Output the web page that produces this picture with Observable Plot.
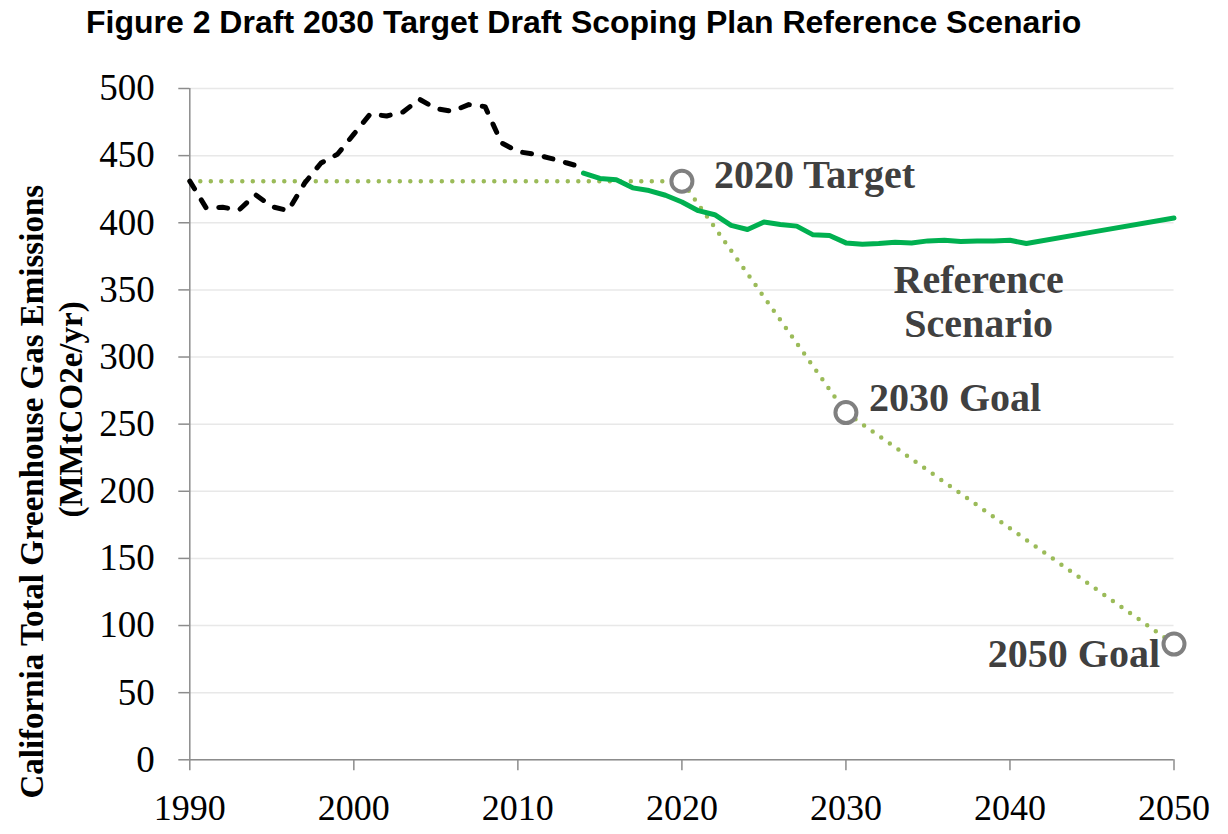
<!DOCTYPE html>
<html><head><meta charset="utf-8">
<script src="https://cdn.jsdelivr.net/npm/d3@7"></script>
<script src="https://cdn.jsdelivr.net/npm/@observablehq/plot@0.6"></script>
<style>
body{margin:0;background:#fff;width:1228px;height:834px;overflow:hidden}
#title{height:55px;position:relative;font-family:"Liberation Sans",Arial,sans-serif;font-weight:bold;font-size:32px;color:#000}
#title span{position:absolute;left:86px;top:6px;line-height:32px;white-space:nowrap}
#chart svg{display:block}
</style></head><body>
<div id="title"><span>Figure 2 Draft 2030 Target Draft Scoping Plan Reference Scenario</span></div>
<div id="chart"></div>
<script>
// Historical inventory (black dashed)
const histYears = [1990,1991,1992,1993,1994,1995,1996,1997,1998,1999,2000,2001,2002,2003,2004,2005,2006,2007,2008,2009,2010,2011,2012,2013,2014];
const histValues = [431,411,411.5,409.5,421,412,409,429.5,444.5,451,466,481,479.5,482.5,492,485,483,488,486.5,459.5,453,451,448,444.5,441];

// Reference scenario (green)
const refYears = [2014,2015,2016,2017,2018,2019,2020,2021,2022,2023,2024,2025,2026,2027,2028,2029,2030,2031,2032,2033,2034,2035,2036,2037,2038,2039,2040,2041,2045,2050];
const refValues = [437,433,432,426,424,420.5,415.5,409,406,398,395,400.5,398.75,397.5,391,390.5,385,384,384.5,385.5,385,386.5,387,386,386.5,386.5,387,384.5,393,403.5];

// Targets / goals (dotted path and circles)
const goalYears = [1990,2020,2030,2050];
const goalValues = [431,431,258.6,86.2];
const goalLabels = ["", "2020 Target", "2030 Goal", "2050 Goal"];

const refLabel = "Reference\nScenario";
const yLabel1 = "California Total Greenhouse Gas Emissions";
const yLabel2 = "(MMtCO2e/yr)";

const yTicks = [0,50,100,150,200,250,300,350,400,450,500];
const xTicks = [1990,2000,2010,2020,2030,2040,2050];

const hist = histYears.map((year,i)=>({year, value:histValues[i]}));
const ref = refYears.map((year,i)=>({year, value:refValues[i]}));
const goals = goalYears.map((year,i)=>({year, value:goalValues[i], label:goalLabels[i]}));
const goalPts = goals.slice(1);

const axisGray = "#8c8c8c";
const labelColor = "#404040";

const plot = Plot.plot({
  width: 1228, height: 779,
  marginTop: 33, marginBottom: 74.7, marginLeft: 189.3, marginRight: 54.5,
  x: {domain: [1990, 2050], label: null},
  y: {domain: [0, 500], label: null},
  style: {fontFamily: "Liberation Serif", background: "white", color: "black", overflow: "visible"},
  marks: [
    Plot.gridY(yTicks, {stroke: "#e8e8e8", strokeOpacity: 1, strokeWidth: 1.5}),
    Plot.axisY(yTicks, {tickSize: 11, tickPadding: 24, fontSize: 37, stroke: axisGray, fill: "black", strokeWidth: 1.5, tickFormat: d => String(d)}),
    Plot.axisX(xTicks, {tickSize: 11, tickPadding: 23.5, fontSize: 36, stroke: axisGray, fill: "black", strokeWidth: 1.5, tickFormat: d => String(d)}),
    Plot.ruleX([1990], {stroke: axisGray, strokeWidth: 1.5}),
    Plot.ruleY([0], {stroke: axisGray, strokeWidth: 1.5}),
    Plot.line(goals, {x: "year", y: "value", stroke: "#9bbb59", strokeWidth: 4.5, strokeDasharray: "0,10.5", strokeLinecap: "round"}),
    Plot.line(hist, {x: "year", y: "value", stroke: "black", strokeWidth: 5, strokeDasharray: "9,13", strokeLinecap: "round"}),
    Plot.line(ref, {x: "year", y: "value", stroke: "#00b050", strokeWidth: 5}),
    Plot.dot(goalPts, {x: "year", y: "value", r: 10.5, stroke: "#808080", strokeWidth: 4, fill: "white"}),
    Plot.text([goalPts[0]], {x: "year", y: "value", text: "label", textAnchor: "start", dx: 32, dy: -5.7, fontSize: 40, fontWeight: "bold", fill: labelColor}),
    Plot.text([goalPts[1]], {x: "year", y: "value", text: "label", textAnchor: "start", dx: 23, dy: -14.6, fontSize: 40, fontWeight: "bold", fill: labelColor}),
    Plot.text([goalPts[2]], {x: "year", y: "value", text: "label", textAnchor: "end", dx: -14, dy: 10, fontSize: 40, fontWeight: "bold", fill: labelColor}),
    Plot.text([ref[refYears.indexOf(2038)]], {x: "year", y: "value", text: () => refLabel, textAnchor: "middle", lineAnchor: "top", lineHeight: 1.12, dx: 1.5, dy: 20, fontSize: 40, fontWeight: "bold", fill: labelColor}),
    Plot.text([yLabel1], {text: d => d, frameAnchor: "left", textAnchor: "middle", rotate: -90, dx: -157.6, dy: 67.6, fontSize: 33, fontWeight: "bold", fill: "black"}),
    Plot.text([yLabel2], {text: d => d, frameAnchor: "left", textAnchor: "middle", rotate: -90, dx: -118.8, dy: -14.7, fontSize: 33, fontWeight: "bold", fill: "black"})
  ]
});
document.getElementById("chart").appendChild(plot);
</script>
</body></html>
